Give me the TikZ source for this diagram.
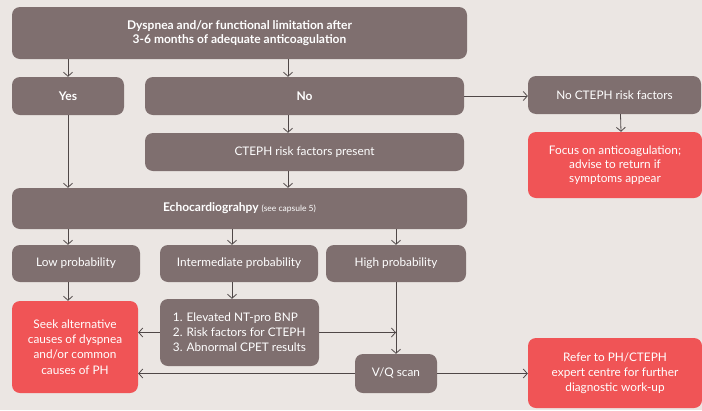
\documentclass[tikz,border=0pt]{standalone}
\usepackage{fontspec}
\setmainfont{Lato}
\usepackage{xcolor}
\usepackage{tikz}
\usetikzlibrary{arrows.meta}

\definecolor{bgcol}{HTML}{EBE6E3}
\definecolor{boxcol}{HTML}{7F6F6F}
\definecolor{redcol}{HTML}{F05456}
\definecolor{linecol}{HTML}{4F4747}

\begin{document}
\begin{tikzpicture}[
    x=1pt, y=-1pt,
    font=\fontsize{11.8}{14.5}\selectfont,
    box/.style={rectangle, rounded corners=8pt, fill=boxcol, text=white, align=center, inner sep=0pt},
    redbox/.style={box, fill=redcol},
    arrow/.style={-{Straight Barb[length=4pt,width=9pt]}, draw=linecol, line width=0.8pt}
]
    % background and page size
    \fill[bgcol] (0,0) rectangle (702,410);
    \useasboundingbox (0,0) rectangle (702,410);

    % columns the connectors run along
    \coordinate (colA) at (68,0);
    \coordinate (colB) at (232,0);
    \coordinate (spine) at (288,0);

    \node[box, minimum width=455pt, minimum height=52pt, font=\fontsize{12}{14}\selectfont\bfseries] (start) at (239.5,33)
        {Dyspnea and/or functional limitation after\\3-6 months of adequate anticoagulation};
    \node[box, minimum width=112pt, minimum height=38pt, font=\fontsize{12}{14}\selectfont\bfseries] (yes) at (68,96) {Yes};
    \node[box, minimum width=319pt, minimum height=38pt, font=\fontsize{12}{14}\selectfont\bfseries] (no) at (304.5,96) {No};
    \node[box, minimum width=173pt, minimum height=38pt] (norisk) at (614.5,95) {No CTEPH risk factors};
    \node[redbox, minimum width=174pt, minimum height=66pt, font=\fontsize{11.8}{14.3}\selectfont] (focus) at (615,165)
        {Focus on anticoagulation;\\advise to return if\\symptoms appear};
    \node[box, minimum width=319pt, minimum height=38pt] (risk) at (304.5,152) {CTEPH risk factors present};
    \node[box, minimum width=455pt, minimum height=41pt] (echo) at (239.5,208.5)
        {{\fontsize{12}{14}\selectfont\bfseries Echocardiograhpy} {\fontsize{8.5}{10}\selectfont (see capsule 5)}};

    \node[box, minimum width=128pt, minimum height=37pt] (low) at (76,263.5) {Low probability};
    \node[box, minimum width=158pt, minimum height=37pt] (mid) at (239,263.5) {Intermediate probability};
    \node[box, minimum width=140pt, minimum height=37pt] (high) at (396,263.5) {High probability};

    \node[redbox, minimum width=126pt, minimum height=92pt, font=\fontsize{11.8}{15.3}\selectfont] (seek) at (75,347)
        {Seek alternative\\causes of dyspnea\\and/or common\\causes of PH};
    \node[box, minimum width=159pt, minimum height=67pt, align=left, font=\fontsize{11.8}{15}\selectfont] (crit) at (239.5,332.5)
        {1. Elevated NT-pro BNP\\2. Risk factors for CTEPH\\3. Abnormal CPET results};
    \node[box, minimum width=82pt, minimum height=39pt] (vq) at (396,373.5) {V/Q scan};
    \node[redbox, minimum width=174pt, minimum height=70pt, font=\fontsize{11.8}{15}\selectfont] (refer) at (615,373)
        {Refer to PH/CTEPH\\expert centre for further\\diagnostic work-up};

    \draw[arrow] (start.south -| colA) -- (yes.north -| colA);
    \draw[arrow] (start.south -| spine) -- (no.north -| spine);
    \draw[arrow] (no.east) -- (norisk.west |- no.east);
    \draw[arrow] ([xshift=6pt]norisk.south) -- ([xshift=6pt]focus.north);
    \draw[arrow] (no.south -| spine) -- (risk.north -| spine);
    \draw[arrow] (yes.south) -- (echo.north -| yes.south);
    \draw[arrow] (risk.south -| spine) -- (echo.north -| spine);

    \draw[arrow] (echo.south -| colA) -- (low.north -| colA);
    \draw[arrow] (echo.south -| colB) -- (mid.north -| colB);
    \draw[arrow] (echo.south -| high.north) -- (high.north);

    \draw[arrow] (low.south -| colA) -- (seek.north -| colA);
    \draw[arrow] (mid.south -| colB) -- (crit.north -| colB);
    \draw[arrow] (high.south) -- (vq.north);
    \draw[arrow] (crit.west) -- (seek.east |- crit.west);
    \draw[arrow] (crit.east) -- (crit.east -| vq.north);
    \draw[arrow] (vq.west) -- (seek.east |- vq.west);
    \draw[arrow] (vq.east) -- (refer.west |- vq.east);
\end{tikzpicture}
\end{document}
